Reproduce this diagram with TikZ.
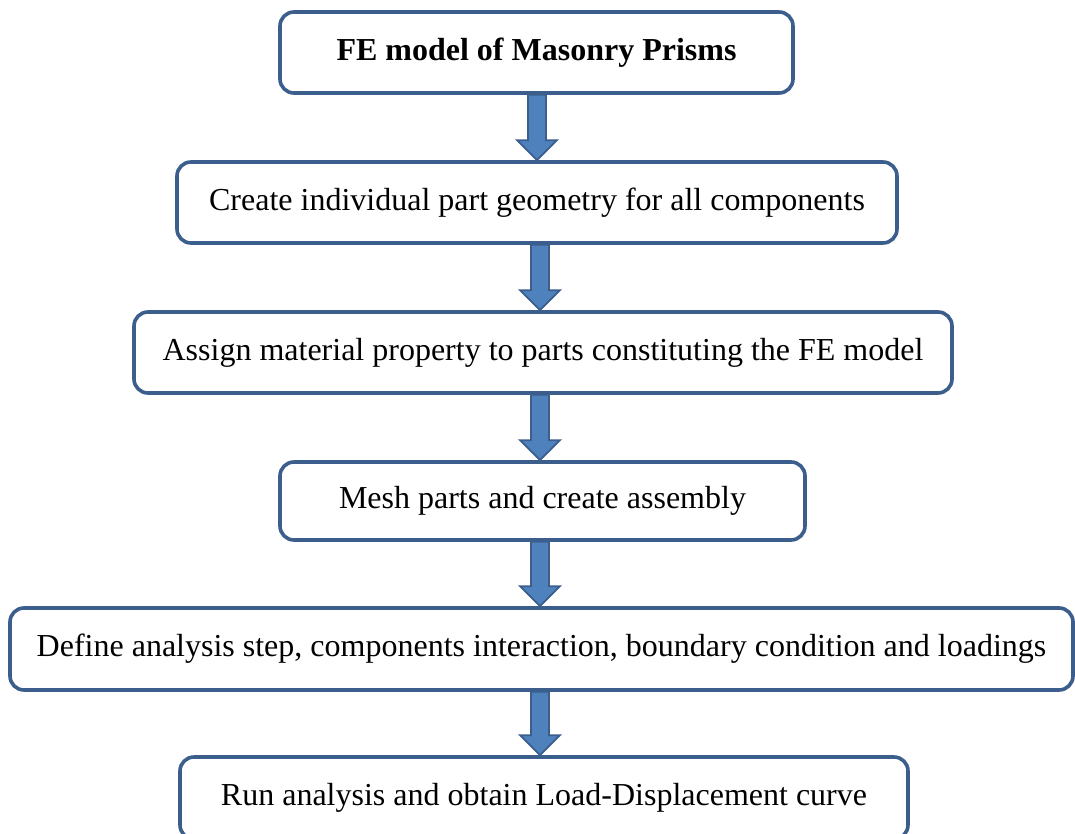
\documentclass[tikz,border=0pt]{standalone}
\usepackage{fontspec}
\setmainfont{Liberation Serif}
\usetikzlibrary{calc}
\definecolor{boxline}{HTML}{3B5E8C}
\definecolor{arrfill}{HTML}{4F81BD}
\tikzset{
  stepbox/.style={draw=boxline, line width=3.6pt, rounded corners=14pt, fill=white,
    inner sep=0pt, font=\fontsize{32}{36}\selectfont, align=center},
  flowarr/.style={fill=arrfill, draw=boxline, line width=1.8pt, line join=miter}
}
\newcommand{\flowarrow}[3]{%
  \path[flowarr] let \p1=(#1.south), \p2=(#2.north) in
    (#3-9,\y1) -- (#3+9,\y1) -- (#3+9,\y2+20pt) -- (#3+20,\y2+20pt) -- (#3,\y2)
    -- (#3-20,\y2+20pt) -- (#3-9,\y2+20pt) -- cycle;}
\begin{document}
\begin{tikzpicture}[x=1pt,y=-1pt]
\useasboundingbox (0,0) rectangle (1075,834);
\clip (0,0) rectangle (1075,834);
\node[stepbox, minimum width=513pt, minimum height=81pt] (n1) at (536.5,52.5) {\textbf{FE model of Masonry Prisms}};
\node[stepbox, minimum width=720pt, minimum height=81pt] (n2) at (537,202.5) {Create individual part geometry for all components};
\node[stepbox, minimum width=818pt, minimum height=81pt] (n3) at (543,352.5) {Assign material property to parts constituting the FE model};
\node[stepbox, minimum width=525pt, minimum height=78pt] (n4) at (542.5,501) {Mesh parts and create assembly};
\node[stepbox, minimum width=1063pt, minimum height=82pt] (n5) at (541.5,649) {Define analysis step, components interaction, boundary condition and loadings};
\node[stepbox, minimum width=728pt, minimum height=82pt] (n6) at (544,798) {Run analysis and obtain Load-Displacement curve};
\flowarrow{n1}{n2}{537}
\flowarrow{n2}{n3}{540}
\flowarrow{n3}{n4}{540}
\flowarrow{n4}{n5}{540}
\flowarrow{n5}{n6}{540}
\end{tikzpicture}
\end{document}
